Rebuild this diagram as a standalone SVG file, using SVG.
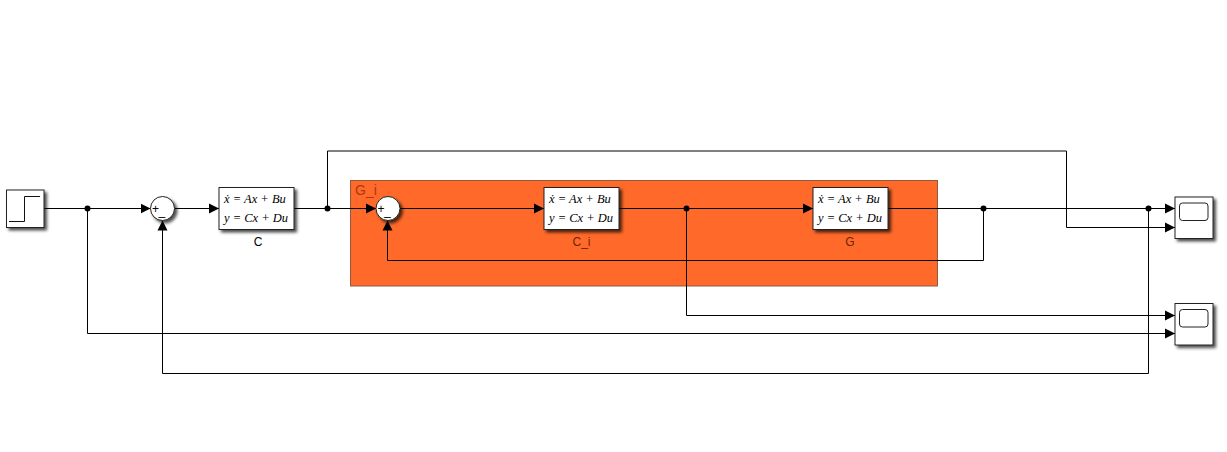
<svg xmlns="http://www.w3.org/2000/svg" width="1227" height="452" viewBox="0 0 1227 452">
<style>
.b{fill:#fff;stroke:#222;stroke-width:1;filter:url(#s)}
.w{fill:none;stroke:#000;stroke-width:1}
.g{fill:none;stroke:#111;stroke-width:1}
.eq{font-family:"Liberation Serif",serif;font-style:italic;font-size:12.500px;fill:#000}
.l{font-family:"Liberation Sans",sans-serif;font-size:12px;text-anchor:middle}
.sg{font-family:"Liberation Sans",sans-serif;font-size:12px;fill:#000}
</style>
<defs>
<filter id="s" x="-30%" y="-30%" width="170%" height="170%"><feDropShadow dx="2.500" dy="2.500" stdDeviation="1.700" flood-color="#000" flood-opacity=".7"/></filter>
<marker id="a" markerUnits="userSpaceOnUse" markerWidth="11" markerHeight="12" refX="10" refY="6" orient="auto"><path d="M0 1L10 6L0 11Z" fill="#000"/></marker>
</defs>
<g id="subsystem-G_i">
<rect x="350.500" y="180.500" width="587" height="105.500" fill="#ff6a2a" stroke="#8f5a40" stroke-width="1"/>
<text x="355" y="195" font-family="Liberation Sans,sans-serif" font-size="14" fill="#a83a10">G_i</text>
</g>
<g id="connectors">
<path class="w" marker-end="url(#a)" d="M44 208.500H150.500"/>
<path class="w" marker-end="url(#a)" d="M175 208.500H219"/>
<path class="w" marker-end="url(#a)" d="M294 208.500H376"/>
<path class="w" marker-end="url(#a)" d="M400 208.500H544"/>
<path class="w" marker-end="url(#a)" d="M619 208.500H813"/>
<path class="w" marker-end="url(#a)" d="M888 208.500H1175"/>
<path class="w" marker-end="url(#a)" d="M327.500 208.500V151H1066.500V227.500H1175"/>
<path class="w" marker-end="url(#a)" d="M983.500 208.500V260.500H387.500V220.500"/>
<path class="w" marker-end="url(#a)" d="M686.500 208.500V315.500H1175"/>
<path class="w" marker-end="url(#a)" d="M87.500 208.500V333.500H1175"/>
<path class="w" marker-end="url(#a)" d="M1148.500 208.500V373.500H162.500V220.500"/>
<g fill="#000"><circle cx="87.500" cy="208.500" r="3"/><circle cx="327.500" cy="208.500" r="3"/><circle cx="686.500" cy="208.500" r="3"/><circle cx="983.500" cy="208.500" r="3"/><circle cx="1148.500" cy="208.500" r="3"/></g>
</g>
<g id="step">
<rect class="b" x="6.500" y="190" width="37.500" height="37.500"/>
<path class="g" d="M9 221.500H24.500V196.500H40"/>
</g>
<g id="sum1">
<circle class="b" cx="162.500" cy="208.500" r="12"/>
<text class="sg" x="152" y="212.500">+</text><text class="sg" x="158.500" y="215">_</text>
</g>
<g id="C">
<rect class="b" x="219" y="187.500" width="75" height="42"/>
<text class="eq" x="224" y="203">ẋ = Ax + Bu</text>
<text class="eq" x="224" y="222">y = Cx + Du</text>
<text class="l" x="258" y="246">C</text>
</g>
<g id="sum2">
<circle class="b" cx="388" cy="208.500" r="12"/>
<text class="sg" x="377.500" y="212.500">+</text><text class="sg" x="384" y="215">_</text>
</g>
<g id="C_i">
<rect class="b" x="544" y="187.500" width="75" height="42"/>
<text class="eq" x="549" y="203">ẋ = Ax + Bu</text>
<text class="eq" x="549" y="222">y = Cx + Du</text>
<text class="l" x="581.500" y="246" fill="#6b2408">C_i</text>
</g>
<g id="G">
<rect class="b" x="813" y="187.500" width="75" height="42"/>
<text class="eq" x="818" y="203">ẋ = Ax + Bu</text>
<text class="eq" x="818" y="222">y = Cx + Du</text>
<text class="l" x="850" y="246" fill="#6b2408">G</text>
</g>
<g id="scope1">
<rect class="b" x="1175" y="197" width="38" height="41.500"/>
<rect x="1179.500" y="203" width="28.500" height="17.500" rx="3" fill="none" stroke="#222" stroke-width="1"/>
</g>
<g id="scope2">
<rect class="b" x="1175" y="303.500" width="38" height="41.500"/>
<rect x="1179.500" y="309.500" width="28.500" height="17.500" rx="3" fill="none" stroke="#222" stroke-width="1"/>
</g>
</svg>
